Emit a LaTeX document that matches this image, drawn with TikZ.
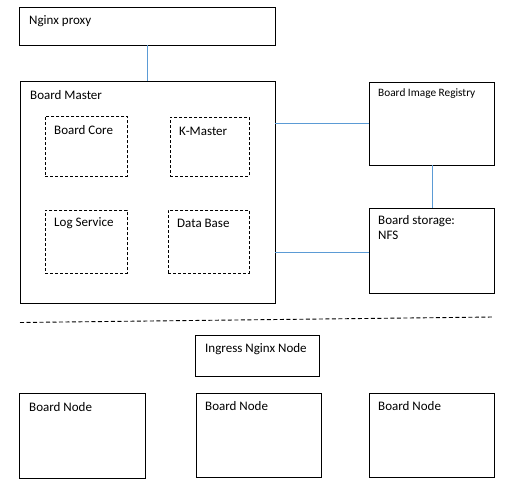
\documentclass[tikz,border=0pt]{standalone}
\usepackage{fontspec}
\setmainfont{Carlito}
\definecolor{conn}{HTML}{5B9BD5}
\begin{document}
\begin{tikzpicture}[x=1pt,y=-1pt,
  box/.style={draw=black,line width=0.9pt,inner sep=0pt},
  dbox/.style={draw=black,line width=0.8pt,dashed,dash pattern=on 3pt off 2pt,inner sep=0pt},
  lbl/.style={anchor=west,inner sep=0pt,font=\fontsize{13}{15}\selectfont},
  slbl/.style={anchor=west,inner sep=0pt,font=\fontsize{11.3}{13}\selectfont},
  conline/.style={draw=conn,line width=0.9pt}]
\useasboundingbox (0,0) rectangle (518,489);
% boxes
\node[box,minimum width=256pt,minimum height=38pt,anchor=north west] (proxy) at (19,7) {};
\node[box,minimum width=255pt,minimum height=222pt,anchor=north west] (master) at (20,81) {};
\node[dbox,minimum width=82pt,minimum height=60pt,anchor=north west] (core) at (45,116) {};
\node[dbox,minimum width=79pt,minimum height=59pt,anchor=north west] (kmaster) at (170,117) {};
\node[dbox,minimum width=82pt,minimum height=63pt,anchor=north west] (log) at (45,210) {};
\node[dbox,minimum width=81pt,minimum height=63pt,anchor=north west] (db) at (168,210) {};
\node[box,minimum width=125pt,minimum height=83pt,anchor=north west] (registry) at (369,82) {};
\node[box,minimum width=125pt,minimum height=85pt,anchor=north west] (storage) at (369,208) {};
\node[box,minimum width=124pt,minimum height=41pt,anchor=north west] (ingress) at (195,335) {};
\node[box,minimum width=126pt,minimum height=85pt,anchor=north west] (node1) at (19,393) {};
\node[box,minimum width=125pt,minimum height=84pt,anchor=north west] (node2) at (196,393) {};
\node[box,minimum width=125pt,minimum height=84pt,anchor=north west] (node3) at (369,393) {};
% labels
\node[lbl] (tproxy) at (29,21) {Nginx proxy};
\node[lbl] (tmaster) at (30,95) {Board Master};
\node[lbl] (tcore) at (54,130) {Board Core};
\node[lbl] (tkm) at (179,131) {K-Master};
\node[lbl] (tlog) at (54,223) {Log Service};
\node[lbl] (tdb) at (177,223) {Data Base};
\node[slbl] (treg) at (378,94) {Board Image Registry};
\node[lbl,align=left,anchor=north west] (tsto) at (378,215) {Board storage:\\NFS};
\node[lbl] (ting) at (205,349) {Ingress Nginx Node};
\node[lbl] (tn1) at (29,407) {Board Node};
\node[lbl] (tn2) at (205,406) {Board Node};
\node[lbl] (tn3) at (378,406) {Board Node};
% connectors
\coordinate (pm) at (147,45);
\draw[conline] (pm) -- (pm |- master.north);
\coordinate (mr1) at (275,123);
\draw[conline] (mr1) -- (mr1 -| registry.west);
\coordinate (mr2) at (275,252);
\draw[conline] (mr2) -- (mr2 -| storage.west);
\coordinate (rs) at (432,165);
\draw[conline] (rs) -- (rs |- storage.north);
% separator
\coordinate (sepL) at (20,322.5);
\coordinate (sepR) at (493,317);
\draw[line width=0.9pt,dash pattern=on 4pt off 2.5pt] (sepL) -- (sepR);
\end{tikzpicture}
\end{document}
